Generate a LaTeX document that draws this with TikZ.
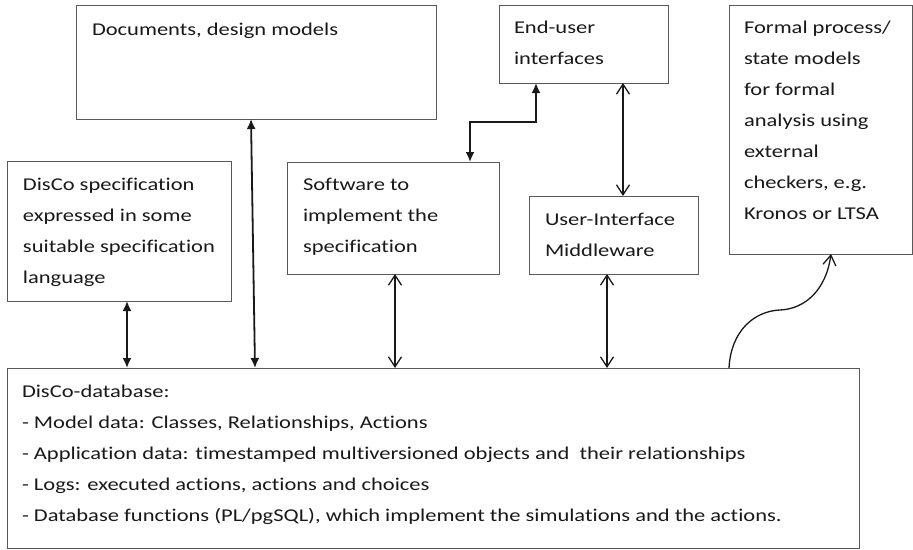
\documentclass[tikz,border=0pt]{standalone}
\usepackage{fontspec}
\setmainfont{Carlito}[FakeStretch=1.25, Ligatures=NoCommon]
\usetikzlibrary{arrows.meta}

% multi-line text block whose reference point is the first baseline
\newcommand\blocktext[1]{\parbox[t]{900pt}{\raggedright #1}}

\tikzset{
  box/.style={draw=black!65, line width=1pt, inner sep=0pt, outer sep=0pt,
    anchor=north west},
  boxlabel/.style={anchor=base west, inner sep=0pt, outer sep=0pt, text=black!90,
    font=\fontsize{18pt}{31pt}\selectfont},
  fboth/.style={line width=1.8pt, draw=black!90,
    {Latex[length=10pt,width=9pt]}-{Latex[length=10pt,width=9pt]}},
  oboth/.style={line width=1.3pt, draw=black!90,
    {Straight Barb[length=10pt,width=13pt,line width=1.3pt]}-{Straight Barb[length=10pt,width=13pt,line width=1.3pt]}},
  oend/.style={line width=1.3pt, draw=black!90,
    -{Straight Barb[length=10pt,width=13pt,line width=1.3pt]}},
}

\begin{document}
\begin{tikzpicture}[x=1pt, y=-1pt]
\useasboundingbox[fill=white] (0,0) rectangle (913,549);

% boxes
\node[box, minimum width=360pt, minimum height=114pt] (docs)   at (76,5)   {};
\node[box, minimum width=224pt, minimum height=140pt] (spec)   at (7,161)  {};
\node[box, minimum width=212pt, minimum height=112pt] (sw)     at (287,162) {};
\node[box, minimum width=169pt, minimum height=78pt]  (eu)     at (499,5)  {};
\node[box, minimum width=169pt, minimum height=78pt]  (ui)     at (529,196) {};
\node[box, minimum width=183pt, minimum height=249pt] (formal) at (729,5)  {};
\node[box, minimum width=852pt, minimum height=180pt] (db)     at (7,368)  {};

% box texts
\node[boxlabel] (docs-t) at ([shift={(16,30)}]docs.north west)
  {Documents, design models};
\node[boxlabel] (spec-t) at ([shift={(16,29)}]spec.north west)
  {\blocktext{DisCo specification\\ expressed in some\\ suitable specification\\ language}};
\node[boxlabel] (sw-t) at ([shift={(16,28)}]sw.north west)
  {\blocktext{Software to\\ implement the\\ specification}};
\node[boxlabel] (eu-t) at ([shift={(15,28)}]eu.north west)
  {\blocktext{End-user\\ interfaces}};
\node[boxlabel] (ui-t) at ([shift={(16,29)}]ui.north west)
  {\blocktext{User-Interface\\ Middleware}};
\node[boxlabel] (formal-t) at ([shift={(15,28)}]formal.north west)
  {\blocktext{Formal process/\\ state models\\ for formal\\ analysis using\\ external\\ checkers, e.g.\\ Kronos or LTSA}};
\node[boxlabel] (db-t) at ([shift={(15,29)}]db.north west)
  {\blocktext{DisCo-database:\\
  - Model data: Classes, Relationships, Actions\\
  - Application data: timestamped multiversioned objects and\ \ their relationships\\
  - Logs: executed actions, actions and choices\\
  - Database functions (PL/pgSQL), which implement the simulations and the actions.}};

% connectors
\draw[fboth] ([xshift=120pt]spec.south west) -- ([xshift=120pt]spec.south west |- db.north);
\draw[fboth] ([xshift=175pt]docs.south west) -- ([xshift=248pt]db.north west);
\draw[oboth] ([xshift=108pt]sw.south west) -- ([xshift=108pt]sw.south west |- db.north);
\draw[oboth] ([xshift=78pt]ui.south west) -- ([xshift=78pt]ui.south west |- db.north);
\draw[oboth] ([xshift=124pt]eu.south west) -- ([xshift=124pt]eu.south west |- ui.north);
\draw[fboth] ([xshift=37pt]eu.south west) -- ++(0,39) -| ([xshift=183pt]sw.north west);
\draw[oend] ([xshift=722pt]db.north west)
  .. controls +(2,-38) and (755,311) .. (780,310)
  .. controls (805,309) and (826,290) .. ([xshift=102pt]formal.south west);
\end{tikzpicture}
\end{document}
